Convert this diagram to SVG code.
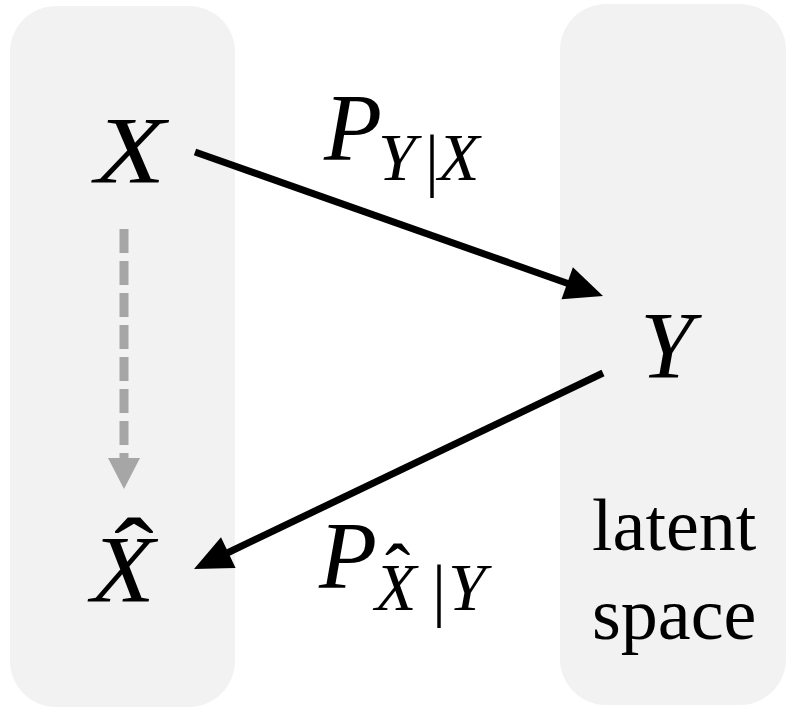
<svg xmlns="http://www.w3.org/2000/svg" width="800" height="713" viewBox="0 0 800 713">
<style>
.panel{fill:#f2f2f2}
.var{font-family:"Liberation Serif","DejaVu Serif",serif;font-style:italic;fill:#000}
.up{font-family:"Liberation Serif","DejaVu Serif",serif;fill:#000}
.conn{stroke:#000;stroke-width:7;fill:none}
.head{fill:#000}
.dash{stroke:#a6a6a6;stroke-width:9;stroke-dasharray:24,8;fill:none}
.dhead{fill:#a6a6a6}
</style>
<g id="panel-left"><rect class="panel" x="10" y="6" width="225" height="701" rx="46"/></g>
<g id="panel-right"><rect class="panel" x="560" y="4" width="226" height="701" rx="46"/>
<text class="up" x="592" y="550" font-size="74">latent</text>
<text class="up" x="592" y="639" font-size="74">space</text>
</g>
<g id="node-X"><text class="var" transform="translate(95,183) scale(1.2,1)" x="0" y="0" font-size="96">X</text></g>
<g id="node-Y"><text class="var" x="640" y="378" font-size="96">Y</text></g>
<g id="node-Xhat"><text class="var" transform="translate(91,602) scale(1.1,1)" x="0" y="0" font-size="95">X</text>
<text class="up" transform="translate(114,590) scale(1.15,1)" x="0" y="0" font-size="104">ˆ</text></g>
<g id="connectors">
<line class="conn" x1="195" y1="152" x2="575" y2="286"/>
<polygon class="head" points="603,296 561.5,299.3 572.9,267.3"/>
<line class="conn" x1="603" y1="373" x2="221" y2="556"/>
<polygon class="head" points="194,569 235.6,567.9 221,537.3"/>
<line class="dash" x1="124" y1="229" x2="124" y2="458"/>
<polygon class="dhead" points="108,458 140,458 124,489"/>
</g>
<g id="label-PYX">
<text class="var" x="324" y="160" font-size="95">P</text>
<text class="var" x="378" y="180" font-size="68">Y</text>
<text class="up" x="425" y="183" font-size="70">|</text>
<text class="var" x="438" y="180" font-size="68">X</text>
</g>
<g id="label-PXY">
<text class="var" x="319" y="588" font-size="95">P</text>
<text class="var" x="375" y="610" font-size="68">X</text>
<text class="up" x="385" y="597" font-size="76">ˆ</text>
<text class="up" x="432" y="613" font-size="70">|</text>
<text class="var" x="448" y="610" font-size="68">Y</text>
</g>
</svg>
